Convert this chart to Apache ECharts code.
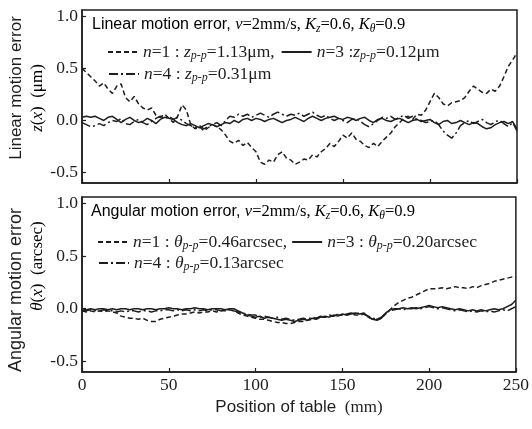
<!DOCTYPE html>
<html>
<head>
<meta charset="utf-8">
<script src="https://cdn.jsdelivr.net/npm/echarts@6/dist/echarts.min.js"></script>
<style>html,body{margin:0;padding:0;background:#fff}#c{width:532px;height:429px}</style>
</head>
<body>
<div id="c"></div>
<script>
// Position of table (mm)
const positions = [0,2.5,5,7.5,10,12.5,15,17.5,20,22.5,25,27.5,30,32.5,35,37.5,40,42.5,45,47.5,
50,52.5,55,57.5,60,62.5,65,67.5,70,72.5,75,77.5,80,82.5,85,87.5,90,92.5,95,97.5,
100,102.5,105,107.5,110,112.5,115,117.5,120,122.5,125,127.5,130,132.5,135,137.5,140,142.5,145,147.5,
150,152.5,155,157.5,160,162.5,165,167.5,170,172.5,175,177.5,180,182.5,185,187.5,190,192.5,195,197.5,
200,202.5,205,207.5,210,212.5,215,217.5,220,222.5,225,227.5,230,232.5,235,237.5,240,242.5,245,247.5,250];

// Linear motion error z(x) (um)
const linearN1 = [0.50,0.46,0.42,0.38,0.33,0.36,0.30,0.26,0.33,0.35,0.22,0.18,0.23,0.16,0.12,0.10,0.12,0.05,0.03,0.06,
0.02,-0.02,0.04,0.15,0.10,-0.04,-0.08,-0.06,-0.10,-0.07,-0.04,-0.06,-0.09,-0.14,-0.20,-0.22,-0.19,-0.24,-0.21,-0.26,
-0.30,-0.40,-0.42,-0.38,-0.40,-0.33,-0.30,-0.36,-0.38,-0.42,-0.40,-0.37,-0.38,-0.33,-0.35,-0.30,-0.27,-0.22,-0.25,-0.20,
-0.14,-0.17,-0.12,-0.18,-0.20,-0.24,-0.26,-0.22,-0.25,-0.20,-0.16,-0.12,-0.06,-0.02,0.02,0.04,0.01,0.06,0.05,0.10,
0.18,0.26,0.22,0.16,0.14,0.17,0.18,0.19,0.22,0.28,0.33,0.30,0.27,0.26,0.30,0.28,0.33,0.42,0.52,0.58,0.65];
const linearN3 = [0.03,0.04,0.03,0.04,0.02,0.00,0.03,0.04,0.01,-0.02,0.01,0.03,0.00,-0.02,-0.01,0.02,0.00,-0.03,0.01,0.03,
0.02,0.01,-0.02,-0.04,-0.05,-0.03,-0.05,-0.07,-0.05,-0.03,-0.04,-0.06,-0.04,-0.02,-0.03,0.00,-0.02,0.01,0.02,0.00,
0.02,0.01,-0.01,0.01,0.02,0.00,-0.02,0.00,0.01,0.03,0.01,-0.01,0.02,0.04,0.02,0.00,0.02,0.03,0.04,0.02,
0.01,0.03,0.02,0.00,0.02,0.03,0.00,-0.02,0.01,0.02,0.00,-0.01,0.01,0.02,0.00,-0.02,0.00,0.01,-0.01,0.00,
0.01,-0.02,-0.04,-0.01,0.00,-0.03,-0.02,0.00,-0.02,-0.04,-0.02,-0.03,-0.06,-0.08,-0.07,-0.04,-0.02,-0.01,-0.03,-0.01,-0.08];
const linearN4 = [-0.02,-0.04,-0.06,-0.05,-0.03,-0.05,-0.02,0.00,-0.01,0.02,-0.03,-0.04,-0.01,0.01,-0.02,-0.04,-0.01,0.02,0.04,0.02,
0.04,0.01,0.03,0.00,-0.03,-0.05,-0.07,-0.05,-0.08,-0.06,-0.04,-0.02,-0.05,0.00,0.04,0.03,0.06,0.04,0.06,0.03,
0.05,0.07,0.05,0.03,0.06,0.08,0.06,0.04,0.06,0.05,0.07,0.04,0.06,0.08,0.05,0.03,0.05,0.02,0.00,0.02,
0.00,-0.02,0.01,0.02,-0.01,-0.04,-0.06,-0.03,0.00,0.03,0.02,0.04,0.01,0.03,0.05,0.02,0.04,0.01,0.00,-0.02,
-0.01,0.00,-0.04,-0.10,-0.14,-0.17,-0.12,-0.05,-0.02,0.00,-0.03,-0.01,0.01,-0.02,-0.04,-0.01,0.00,-0.03,-0.06,-0.02,-0.10];

// Angular motion error theta(x) (arcsec)
const angularN1 = [-0.02,-0.03,-0.02,-0.03,-0.02,-0.03,-0.02,-0.03,-0.04,-0.07,-0.08,-0.09,-0.09,-0.10,-0.09,-0.11,-0.12,-0.12,-0.10,-0.09,
-0.08,-0.07,-0.06,-0.05,-0.05,-0.04,-0.03,-0.04,-0.03,-0.03,-0.02,-0.03,-0.02,-0.02,-0.01,-0.02,-0.04,-0.06,-0.07,-0.08,
-0.09,-0.10,-0.10,-0.11,-0.12,-0.13,-0.13,-0.14,-0.14,-0.13,-0.12,-0.12,-0.11,-0.10,-0.09,-0.08,-0.08,-0.07,-0.07,-0.06,
-0.06,-0.06,-0.05,-0.06,-0.06,-0.05,-0.08,-0.10,-0.10,-0.09,-0.05,-0.01,0.03,0.06,0.08,0.10,0.11,0.13,0.15,0.17,
0.19,0.19,0.19,0.20,0.19,0.20,0.21,0.20,0.20,0.19,0.21,0.20,0.22,0.23,0.24,0.26,0.27,0.28,0.29,0.30,0.30];
const angularN3 = [0.00,-0.01,0.00,-0.01,0.00,0.00,-0.01,0.00,-0.01,0.00,0.00,-0.01,0.00,0.00,-0.01,0.00,0.00,-0.01,0.00,0.00,
0.01,0.00,0.00,-0.01,0.00,0.00,0.01,0.00,0.00,-0.01,0.00,0.00,0.00,-0.01,0.00,0.00,-0.02,-0.04,-0.06,-0.07,
-0.08,-0.07,-0.09,-0.08,-0.09,-0.10,-0.11,-0.10,-0.11,-0.12,-0.11,-0.10,-0.11,-0.09,-0.10,-0.08,-0.07,-0.08,-0.06,-0.07,
-0.05,-0.06,-0.05,-0.04,-0.05,-0.04,-0.08,-0.10,-0.11,-0.09,-0.04,-0.01,0.00,0.00,0.01,0.00,0.01,0.00,0.01,0.02,
0.03,0.02,0.01,0.02,0.01,0.00,-0.01,0.00,-0.01,-0.02,-0.01,-0.02,-0.01,-0.02,-0.01,0.00,-0.01,0.00,0.02,0.04,0.08];
const angularN4 = [-0.02,-0.02,-0.01,-0.02,-0.02,-0.01,-0.02,-0.02,-0.03,-0.02,-0.03,-0.02,-0.02,-0.03,-0.02,-0.02,-0.03,-0.02,-0.02,-0.01,
-0.01,-0.02,-0.01,-0.02,-0.01,-0.02,-0.01,-0.02,-0.01,-0.02,-0.01,-0.01,-0.02,-0.01,-0.01,-0.02,-0.03,-0.04,-0.05,-0.06,
-0.06,-0.08,-0.07,-0.08,-0.09,-0.08,-0.10,-0.09,-0.10,-0.11,-0.10,-0.09,-0.10,-0.08,-0.09,-0.07,-0.08,-0.06,-0.07,-0.05,
-0.06,-0.05,-0.04,-0.05,-0.04,-0.05,-0.07,-0.09,-0.10,-0.08,-0.04,-0.02,-0.01,0.00,-0.01,0.00,0.00,0.01,0.00,0.01,
0.02,0.01,0.00,0.01,0.00,-0.01,-0.02,-0.01,-0.02,-0.03,-0.02,-0.03,-0.02,-0.03,-0.02,-0.03,-0.02,-0.01,-0.02,0.00,0.02];

const xTicks = [0, 50, 100, 150, 200, 250];
const yTicks = [-0.5, 0, 0.5, 1.0];

const INK = '#1e1e1e';
const SERIF = 'Liberation Serif';
const SANS = 'Liberation Sans';

function pairs(vals) { return positions.map((p, i) => [p, vals[i]]); }

const rich = {
  i: { fontFamily: SERIF, fontStyle: 'italic', fontSize: 17.5, color: INK },
  s: { fontFamily: SERIF, fontSize: 17.5, color: INK },
  sub: { fontFamily: SERIF, fontStyle: 'italic', fontSize: 12, color: INK, padding: [7, 0, 0, 0] },
  ti: { fontFamily: SERIF, fontStyle: 'italic', fontSize: 16.5, color: INK },
  ts: { fontFamily: SERIF, fontSize: 16.5, color: INK },
  tsub: { fontFamily: SERIF, fontStyle: 'italic', fontSize: 11.5, color: INK, padding: [7, 0, 0, 0] },
  sans: { fontFamily: SANS, fontSize: 16, color: INK },
  sansL: { fontFamily: SANS, fontSize: 17, color: INK },
  ser: { fontFamily: SERIF, fontSize: 17, color: INK },
  serI: { fontFamily: SERIF, fontStyle: 'italic', fontSize: 17, color: INK }
};

const legendText = {
  z1: '{i|n}{s|=1 : }{i|z}{sub|p-p}{s|=1.13μm,}',
  z3: '{i|n}{s|=3 :}{i|z}{sub|p-p}{s|=0.12μm}',
  z4: '{i|n}{s|=4 : }{i|z}{sub|p-p}{s|=0.31μm}',
  t1: '{i|n}{s|=1 : }{i|θ}{sub|p-p}{s|=0.46arcsec,}',
  t3: '{i|n}{s|=3 : }{i|θ}{sub|p-p}{s|=0.20arcsec}',
  t4: '{i|n}{s|=4 : }{i|θ}{sub|p-p}{s|=0.13arcsec}'
};

const DASH = [5, 3];
const DASHDOT = [9, 3, 2, 3];

function mkSeries(name, vals, gi, type) {
  return {
    name: name, type: 'line', xAxisIndex: gi, yAxisIndex: gi,
    data: pairs(vals), symbol: 'none', showSymbol: false,
    lineStyle: { color: INK, width: 1.5, type: type },
    itemStyle: { color: INK },
    emphasis: { disabled: true }
  };
}

function mkLegend(names, left, top, gap) {
  return {
    data: names, left: left, top: top, orient: 'horizontal', padding: 0,
    itemWidth: 30, itemHeight: 10, itemGap: gap, selectedMode: false,
    itemStyle: { color: 'transparent', borderWidth: 0, opacity: 0 },
    formatter: (n) => legendText[n],
    textStyle: { fontFamily: SERIF, fontSize: 17.5, color: INK, padding: [0, 0, 0, 0], rich: rich }
  };
}

function yAx(gi) {
  return {
    gridIndex: gi, type: 'value', min: -0.6, max: 1.06,
    axisLine: { show: true, lineStyle: { color: INK, width: 1.5 } },
    axisTick: { show: true, inside: true, length: 4, customValues: yTicks, lineStyle: { color: INK, width: 1.2 } },
    axisLabel: { customValues: yTicks, formatter: (v) => v.toFixed(1), fontFamily: SERIF, fontSize: 17.5, color: INK, margin: 4 },
    splitLine: { show: false }
  };
}

function xAx(gi, showLabel) {
  const ax = {
    gridIndex: gi, type: 'value', min: 0, max: 250,
    axisLine: { show: true, onZero: false, lineStyle: { color: INK, width: 1.5 } },
    axisTick: { show: true, inside: true, length: 4, customValues: xTicks, lineStyle: { color: INK, width: 1.2 } },
    axisLabel: { show: showLabel, customValues: xTicks, fontFamily: SERIF, fontSize: 17.5, color: INK, margin: 4 },
    splitLine: { show: false }
  };
  if (showLabel) {
    ax.name = '{sansL|Position of table}{ser|  (mm)}';
    ax.nameLocation = 'middle';
    ax.nameGap = 27;
    ax.nameTextStyle = { rich: rich };
  }
  return ax;
}

const chart = echarts.init(document.getElementById('c'), null, { renderer: 'canvas' });
chart.setOption({
  animation: false,
  backgroundColor: '#fff',
  grid: [
    { left: 82, right: 15, top: 10, height: 173, show: true, borderColor: INK, borderWidth: 1.5, backgroundColor: 'transparent' },
    { left: 82, right: 15, top: 197, height: 175, show: true, borderColor: INK, borderWidth: 1.5, backgroundColor: 'transparent' }
  ],
  xAxis: [xAx(0, false), xAx(1, true)],
  yAxis: [yAx(0), yAx(1)],
  legend: [
    mkLegend(['z1', 'z3'], 107, 43, 6),
    mkLegend(['z4'], 108, 65, 4),
    mkLegend(['t1', 't3'], 97, 233, 4),
    mkLegend(['t4'], 98, 254, 4)
  ],
  graphic: [
    { type: 'text', x: 92, y: 25, style: { text: '{sans|Linear motion error, }{ti|v}{ts|=2mm/s, }{ti|K}{tsub|z}{ts|=0.6, }{ti|K}{tsub|θ}{ts|=0.9}', rich: rich, verticalAlign: 'middle', align: 'left' } },
    { type: 'text', x: 91, y: 212, style: { text: '{sans|Angular motion error, }{ti|v}{ts|=2mm/s, }{ti|K}{tsub|z}{ts|=0.6, }{ti|K}{tsub|θ}{ts|=0.9}', rich: rich, verticalAlign: 'middle', align: 'left' } },
    { type: 'text', x: 16, y: 88, rotation: Math.PI / 2, style: { text: 'Linear motion error', font: '17px Liberation Sans', fill: INK, align: 'center', verticalAlign: 'middle' } },
    { type: 'text', x: 38, y: 98, rotation: Math.PI / 2, style: { text: '{serI|z}{ser|(}{serI|x}{ser|)  (μm)}', rich: rich, align: 'center', verticalAlign: 'middle' } },
    { type: 'text', x: 16, y: 290, rotation: Math.PI / 2, style: { text: 'Angular motion error', font: '18px Liberation Sans', fill: INK, align: 'center', verticalAlign: 'middle' } },
    { type: 'text', x: 38, y: 266, rotation: Math.PI / 2, style: { text: '{serI|θ}{ser|(}{serI|x}{ser|)  (arcsec)}', rich: rich, align: 'center', verticalAlign: 'middle' } }
  ],
  series: [
    mkSeries('z1', linearN1, 0, DASH),
    mkSeries('z3', linearN3, 0, 'solid'),
    mkSeries('z4', linearN4, 0, DASHDOT),
    mkSeries('t1', angularN1, 1, DASH),
    mkSeries('t3', angularN3, 1, 'solid'),
    mkSeries('t4', angularN4, 1, DASHDOT)
  ]
});
</script>
</body>
</html>
